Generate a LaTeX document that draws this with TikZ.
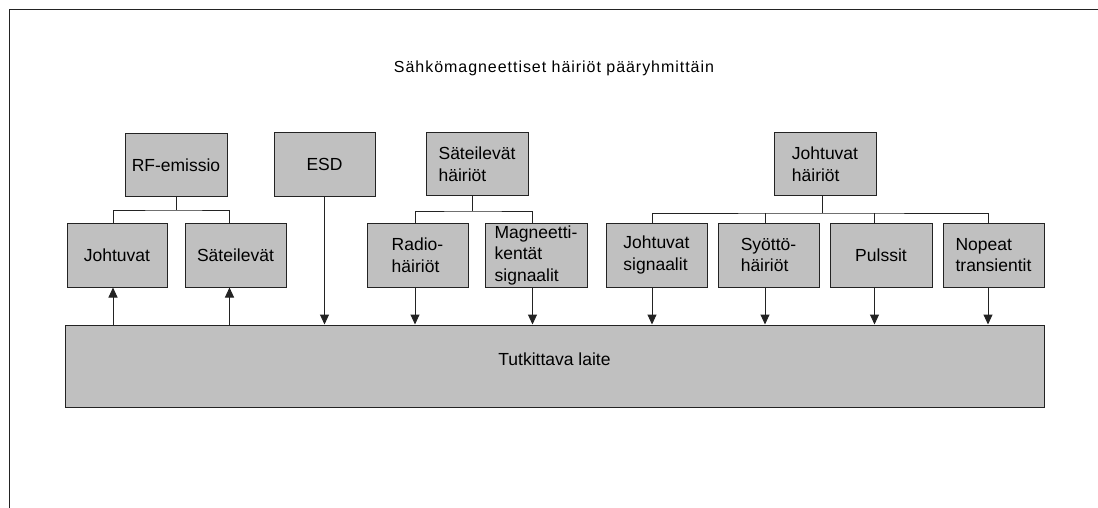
\documentclass[tikz,border=0pt]{standalone}
\usepackage{fontspec}
\setmainfont{Liberation Sans}
\usetikzlibrary{arrows.meta,calc}
\definecolor{boxgray}{RGB}{192,192,192}
\definecolor{linegray}{RGB}{35,35,35}
\begin{document}
\begin{tikzpicture}[x=1pt,y=-1pt,
  box/.style={draw=linegray, fill=boxgray, line width=1pt, minimum width=102pt, minimum height=63pt,
    inner sep=0pt, align=left, font=\fontsize{17.5}{21.5}\selectfont},
  lowbox/.style={box, minimum height=64pt},
  conn/.style={draw=linegray, line width=1pt},
  arr/.style={conn, -{Triangle[length=10pt,width=9pt]}},
  titletext/.style={font=\fontsize{16}{18}\selectfont\addfontfeature{LetterSpace=6}}]
\useasboundingbox (0,0) rectangle (1098,508);
% frame
\draw[conn] (9,508) -- (9,10) -- (1098,10);
% title
\node[titletext, anchor=base] (title) at (554,73) {Sähkömagneettiset häiriöt pääryhmittäin};
% top row
\node[box] (rf)  at (176,165) {RF-emissio};
\node[box, minimum width=101pt] (esd) at (324.5,164.5) {ESD};
\node[box] (sat) at (477,164) {Säteilevät\\häiriöt};
\node[box] (joh) at (825,164) {Johtuvat\\häiriöt};
% second row
\node[lowbox, minimum width=100pt] (johtuvat)   at (117,255)   {Johtuvat};
\node[lowbox, minimum width=101pt] (sateilevat) at (235.5,255) {Säteilevät};
\node[lowbox, minimum width=101pt] (radio)      at (417.5,255) {Radio-\\häiriöt};
\node[lowbox] (magn)  at (536,255)   {Magneetti-\\kentät\\signaalit};
\node[lowbox, minimum width=101pt] (jsig)   at (656.5,255) {Johtuvat\\signaalit};
\node[lowbox, minimum width=101pt] (syotto) at (768.5,255) {Syöttö-\\häiriöt};
\node[lowbox] (pulssit) at (881,255)   {Pulssit};
\node[lowbox, minimum width=101pt] (nopeat)  at (993.5,255) {Nopeat\\transientit};
% device under test
\node[box, minimum width=979pt, minimum height=82pt] (dut) at (554.5,366) {};
\node[anchor=base, font=\fontsize{17.5}{21.5}\selectfont] (dutlabel) at ([yshift=1pt]dut.center) {Tutkittava laite};
% connector points
\coordinate (cJo) at ([xshift=-4pt]johtuvat.south);
\coordinate (cSa) at ([xshift=-6pt]sateilevat.south);
\coordinate (cRa) at ([xshift=-2.5pt]radio.south);
\coordinate (cMa) at ([xshift=-3.5pt]magn.south);
\coordinate (cJs) at ([xshift=-4.5pt]jsig.south);
\coordinate (cSy) at ([xshift=-3.5pt]syotto.south);
\coordinate (cPu) at ([xshift=-6.5pt]pulssit.south);
\coordinate (cNo) at ([xshift=-5.5pt]nopeat.south);
% brackets
\draw[conn] (rf.south) -- ++(0,13) coordinate (rfb);
\draw[conn] (cJo |- johtuvat.north) |- (rfb) -| (cSa |- sateilevat.north);
\draw[conn] ([xshift=-5pt]sat.south) -- ++(0,15) coordinate (satb);
\draw[conn] (cRa |- radio.north) |- (satb) -| (cMa |- magn.north);
\draw[conn] ([xshift=-3pt]joh.south) -- ++(0,17) coordinate (johb);
\draw[conn] (cJs |- jsig.north) |- (johb) -| (cNo |- nopeat.north);
\draw[conn] (cSy |- syotto.north) -- (cSy |- johb);
\draw[conn] (cPu |- pulssit.north) -- (cPu |- johb);
% arrows
\draw[arr] (cJo |- dut.north) -- (cJo);
\draw[arr] (cSa |- dut.north) -- (cSa);
\draw[arr] (esd.south) -- (esd.south |- dut.north);
\draw[arr] (cRa) -- (cRa |- dut.north);
\draw[arr] (cMa) -- (cMa |- dut.north);
\draw[arr] (cJs) -- (cJs |- dut.north);
\draw[arr] (cSy) -- (cSy |- dut.north);
\draw[arr] (cPu) -- (cPu |- dut.north);
\draw[arr] (cNo) -- (cNo |- dut.north);
\end{tikzpicture}
\end{document}
